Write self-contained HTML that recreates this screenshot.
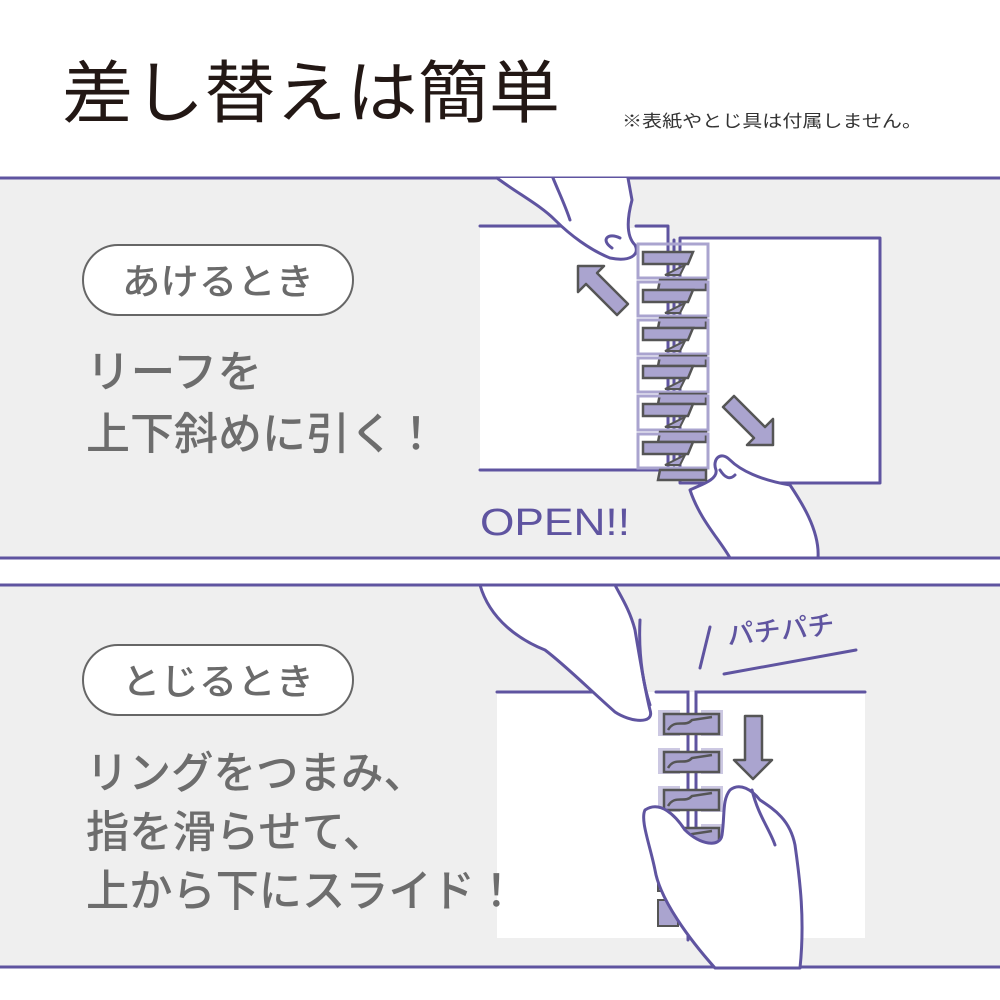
<!DOCTYPE html>
<html><head><meta charset="utf-8"><style>
html,body{margin:0;padding:0;background:#fff;}
svg{display:block;}
text{font-family:"Liberation Sans","Noto Sans CJK JP",sans-serif;}
</style></head><body>
<svg width="1000" height="1000" viewBox="0 0 1000 1000" xmlns="http://www.w3.org/2000/svg">
<rect width="1000" height="1000" fill="#fff"/>
<text x="62" y="117" font-size="68" fill="#231815" textLength="498" lengthAdjust="spacingAndGlyphs">差し替えは簡単</text>
<text x="622" y="127" font-size="17" fill="#333" textLength="300" lengthAdjust="spacingAndGlyphs">※表紙やとじ具は付属しません。</text>

<!-- top panel -->
<rect x="0" y="178" width="1000" height="380" fill="#efefef"/>
<line x1="0" y1="178" x2="1000" y2="178" stroke="#5f54a0" stroke-width="3"/>
<line x1="0" y1="558" x2="1000" y2="558" stroke="#5f54a0" stroke-width="3"/>
<rect x="83" y="245" width="270" height="70" rx="35" fill="#fff" stroke="#666" stroke-width="2"/>
<text x="218" y="294" font-size="36" fill="#6b6b6b" text-anchor="middle" font-weight="500" textLength="192" lengthAdjust="spacingAndGlyphs">あけるとき</text>
<text x="86" y="387" font-size="44" fill="#6d6d6d" font-weight="500" textLength="176" lengthAdjust="spacingAndGlyphs">リーフを</text>
<text x="86" y="449" font-size="44" fill="#6d6d6d" font-weight="500" textLength="352" lengthAdjust="spacingAndGlyphs">上下斜めに引く！</text>

<!-- top illustration -->
<g stroke="#5f54a0" stroke-width="3" fill="none" stroke-linecap="round" stroke-linejoin="round">
  <rect x="480" y="228" width="188" height="242" fill="#fff" stroke="none"/>
  <line x1="480" y1="226" x2="588" y2="226"/>
  <path d="M636 226 L668 226 L668 470"/>
  <line x1="480" y1="470" x2="668" y2="470"/>
  <rect x="680" y="238" width="200" height="245" fill="#fff"/>
  <line x1="668" y1="240" x2="668" y2="465"/>
  <line x1="674" y1="240" x2="674" y2="465"/>
  <path d="M497 178 C520 195 540 205 555 220 C570 235 590 250 610 258 C630 262 640 255 635 245 C625 235 628 215 632 200 L628 178" fill="#fff"/>
  <path d="M553 178 C560 195 565 205 570 220" />
  <path d="M612 248 C600 240 608 232 620 238"/>
  <path d="M690 490 C700 520 720 540 730 558 L818 558 C820 530 800 500 790 485 C760 480 740 470 730 460 C720 450 712 460 716 470 C718 480 700 485 690 490 Z" fill="#fff"/>
  <path d="M720 470 C725 478 730 480 735 475"/>
</g>
<g>
  <g id="r1">
    <rect x="638" y="244" width="70" height="34" fill="none" stroke="#aaa4cf" stroke-width="3"/>
    <path d="M643 252 L693 252 L688 264 L643 264 Z" fill="#aaa4cf" stroke="#555" stroke-width="2.5"/>
    <path d="M660 280 L706 280 L706 290 L658 290 Z" fill="#aaa4cf" stroke="#555" stroke-width="2.5"/>
    <path d="M665 275 L685 265 L680 275 Z" fill="#aaa4cf" stroke="#555" stroke-width="2"/>
  </g>
  <use href="#r1" y="38"/>
  <use href="#r1" y="76"/>
  <use href="#r1" y="114"/>
  <use href="#r1" y="152"/>
  <use href="#r1" y="190"/>
</g>
<path d="M578 266 L604 266 L597 273 L628 304 L617 315 L586 284 L578 292 Z" fill="#aaa4cf" stroke="#555" stroke-width="2.5" stroke-linejoin="round"/>
<path d="M773 445 L747 445 L754 438 L723 407 L734 396 L765 427 L773 419 Z" fill="#aaa4cf" stroke="#555" stroke-width="2.5" stroke-linejoin="round"/>
<text x="480" y="535" font-size="38" fill="#5f54a0" font-weight="500" textLength="150" lengthAdjust="spacingAndGlyphs">OPEN!!</text>

<!-- bottom panel -->
<rect x="0" y="585" width="1000" height="383" fill="#efefef"/>
<line x1="0" y1="585" x2="1000" y2="585" stroke="#5f54a0" stroke-width="3"/>
<line x1="0" y1="967" x2="1000" y2="967" stroke="#5f54a0" stroke-width="3"/>
<rect x="83" y="645" width="270" height="70" rx="35" fill="#fff" stroke="#666" stroke-width="2"/>
<text x="218" y="694" font-size="36" fill="#6b6b6b" text-anchor="middle" font-weight="500" textLength="192" lengthAdjust="spacingAndGlyphs">とじるとき</text>

<rect x="497" y="692" width="368" height="246" fill="#fff"/>
<text x="86" y="788" font-size="44" fill="#6d6d6d" font-weight="500" textLength="340" lengthAdjust="spacingAndGlyphs">リングをつまみ、</text>
<text x="86" y="847" font-size="44" fill="#6d6d6d" font-weight="500" textLength="300" lengthAdjust="spacingAndGlyphs">指を滑らせて、</text>
<text x="86" y="906" font-size="44" fill="#6d6d6d" font-weight="500" textLength="432" lengthAdjust="spacingAndGlyphs">上から下にスライド！</text>
<g stroke="#5f54a0" stroke-width="3" fill="none" stroke-linecap="round">
  <line x1="497" y1="692" x2="608" y2="692"/>
  <path d="M656 692 L688 692 L688 940"/>
  <path d="M696 940 L696 692 L865 692"/>
  <line x1="710" y1="627" x2="700" y2="668"/>
  <line x1="724" y1="674" x2="856" y2="650"/>
</g>
<text x="728" y="645" font-size="27" fill="#5f54a0" font-weight="500" transform="rotate(-6 728 645)">パチパチ</text>
<g>
  <g id="r2">
    <rect x="658" y="710" width="22" height="26" fill="#aaa4cf" opacity="0.6"/>
    <rect x="701" y="710" width="22" height="26" fill="#aaa4cf" opacity="0.6"/>
    <rect x="664" y="714" width="55" height="20" fill="#aaa4cf" stroke="#555" stroke-width="2.5"/>
    <path d="M668 730 C675 718 685 728 692 720 L712 717" fill="none" stroke="#555" stroke-width="2.5"/>
  </g>
  <use href="#r2" y="38"/>
  <use href="#r2" y="76"/>
  <use href="#r2" y="114"/>
  <rect x="658" y="865" width="20" height="26" fill="#aaa4cf" stroke="#555" stroke-width="2"/>
  <rect x="658" y="900" width="20" height="26" fill="#aaa4cf" stroke="#555" stroke-width="2"/>
</g>
<path d="M745 716 L762 716 L762 760 L772 760 L753 779 L734 760 L745 760 Z" fill="#aaa4cf" stroke="#555" stroke-width="2.5" stroke-linejoin="round"/>
<g stroke="#5f54a0" stroke-width="3" fill="#fff" stroke-linejoin="round" stroke-linecap="round">
  <path d="M480 585 C490 620 520 640 545 650 C565 665 590 690 615 712 C630 722 655 725 650 710 C645 690 640 660 635 630 C630 610 620 595 615 585 Z"/>
  <path d="M640 620 C638 660 645 690 650 705" fill="none"/>
  <path d="M715 968 C690 940 660 900 655 870 C650 845 640 820 645 810 C660 800 675 815 685 830 C700 845 720 848 722 835 C725 815 722 800 730 790 C740 782 752 790 760 800 C775 810 790 820 795 845 C800 880 805 920 800 968 Z"/>
  <path d="M752 790 C758 815 770 830 775 845" fill="none"/>
</g>
</svg>
</body></html>
